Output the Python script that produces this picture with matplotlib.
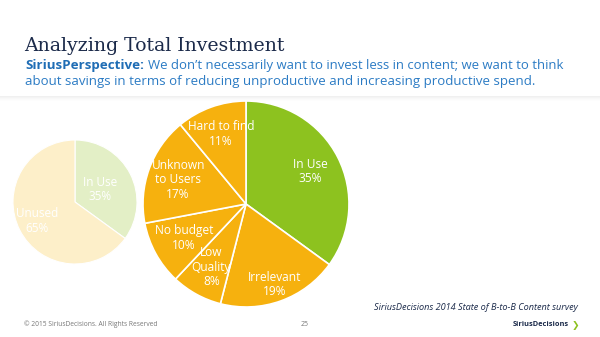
import matplotlib
matplotlib.use("Agg")
import matplotlib.pyplot as plt
import numpy as np

# Data
main_labels = ["In Use", "Irrelevant", "Low\nQuality", "No budget", "Unknown\nto Users", "Hard to find"]
main_values = [35, 19, 8, 10, 17, 11]
main_colors = ["#8dc21f", "#f6b10e", "#f6b10e", "#f6b10e", "#f6b10e", "#f6b10e"]
main_label_dist = [0.70, 0.83, 0.70, 0.69, 0.70, 0.72]

small_labels = ["In Use", "Unused"]
small_values = [35, 65]
small_colors = ["#e3efc6", "#fdefc9"]
small_label_dist = [0.45, 0.68]

W, H = 600, 337
fig = plt.figure(figsize=(W / 100, H / 100), dpi=100)
fig.patch.set_facecolor("white")


def px_axes(cx, cy, r):
    return fig.add_axes([(cx - r) / W, (H - cy - r) / H, 2 * r / W, 2 * r / H])


def draw_pie(ax, values, labels, colors, dists, fs, lw):
    wedges, _ = ax.pie(values, colors=colors, startangle=90, counterclock=False,
                       wedgeprops=dict(edgecolor="white", linewidth=lw))
    total = float(sum(values))
    start = 90.0
    for w, lab, v, d in zip(wedges, labels, values, dists):
        mid = np.deg2rad(start - v / total * 180.0)
        start -= v / total * 360.0
        ax.text(d * np.cos(mid), d * np.sin(mid), f"{lab}\n{v}%", ha="center", va="center",
                color="white", fontsize=fs, family="Open Sans", linespacing=1.15)
    ax.set_aspect("equal")
    ax.set_xlim(-1, 1)
    ax.set_ylim(-1, 1)
    ax.axis("off")


# small faded pie
ax_s = px_axes(75, 202, 62)
draw_pie(ax_s, small_values, small_labels, small_colors, small_label_dist, 8.5, 0.8)

# main pie
ax_m = px_axes(246, 204, 103)
draw_pie(ax_m, main_values, main_labels, main_colors, main_label_dist, 8.6, 1.2)

# header
fig.text(24 / W, 1 - 46 / H, "Analyzing Total Investment", family="DejaVu Serif",
         fontsize=13.6, color="#1b2a4a", va="center", ha="left")
fig.text(25 / W, 1 - 65 / H, "SiriusPerspective:", family="Open Sans", fontweight="bold",
         fontsize=9.6, color="#1f6db5", va="center", ha="left")
fig.text(148 / W, 1 - 65 / H, "We don\u2019t necessarily want to invest less in content; we want to think",
         family="Open Sans", fontsize=9.45, color="#2b7bc4", va="center", ha="left")
fig.text(25 / W, 1 - 81 / H, "about savings in terms of reducing unproductive and increasing productive spend.",
         family="Open Sans", fontsize=9.5, color="#2b7bc4", va="center", ha="left")

# shadow under header
for i, a in enumerate([0.10, 0.07, 0.045, 0.025, 0.012]):
    fig.patches.append(plt.Rectangle((0, 1 - (97 + i) / H), 1, 1 / H, transform=fig.transFigure,
                                     color="#707070", alpha=a, lw=0))

# footer
fig.text(578 / W, 1 - 308 / H, "SiriusDecisions 2014 State of B-to-B Content survey",
         family="Open Sans", style="italic", fontsize=6.6, color="#1b2a4a", ha="right", va="center")
fig.text(24 / W, 1 - 324 / H, "\u00a9 2015 SiriusDecisions. All Rights Reserved",
         family="Open Sans", fontsize=4.8, color="#777777", ha="left", va="center")
fig.text(305 / W, 1 - 324 / H, "25", family="Open Sans", fontsize=5, color="#777777",
         ha="center", va="center")
fig.text(569 / W, 1 - 325 / H, "SiriusDecisions", family="Open Sans", fontweight="bold",
         fontsize=5.3, color="#1b2a4a", ha="right", va="center")
fig.text(575 / W, 1 - 325 / H, "\u276f", family="DejaVu Sans", fontweight="bold",
         fontsize=6.5, color="#8dc21f", ha="center", va="center")

fig.savefig("out.png", dpi=100)
